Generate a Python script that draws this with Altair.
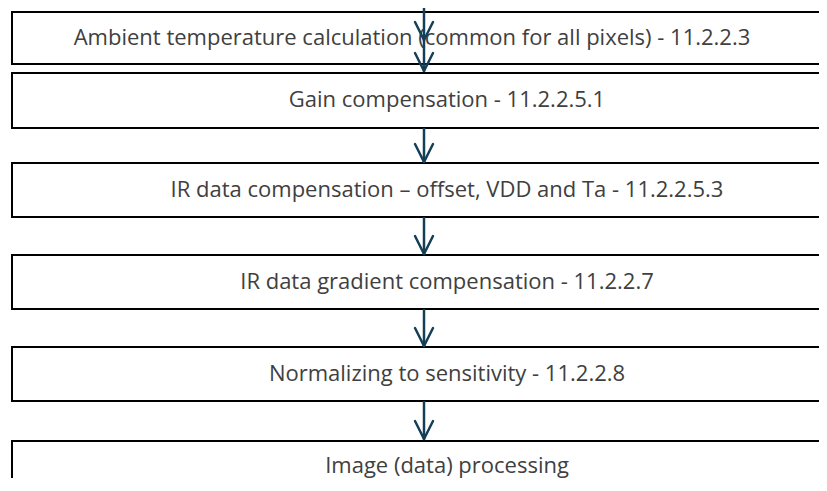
import altair as alt
import pandas as pd

# Flowchart steps (top to bottom)
labels = [
    "Ambient temperature calculation (common for all pixels) - 11.2.2.3",
    "Gain compensation - 11.2.2.5.1",
    "IR data compensation \u2013 offset, VDD and Ta - 11.2.2.5.3",
    "IR data gradient compensation - 11.2.2.7",
    "Normalizing to sensitivity - 11.2.2.8",
    "Image (data) processing",
]
box_top = [12, 73, 163, 255, 347, 441]
box_bottom = [64, 128, 217, 309, 401, 540]
box_left = [12, 12, 12, 12, 12, 12]
box_right = [1000, 1000, 1000, 1000, 1000, 1000]
text_x = [412, 447, 447, 447, 447, 447]
text_y = [38, 100, 190, 282, 374, 466]

# Arrows: shaft start/end and arrowhead tips
arrow_x = 424
shaft_start = [0, 128, 217, 309, 401]
shaft_end = [71, 162, 254, 346, 439]
head_tips = [40, 71, 162, 254, 346, 439]
head_half_w = 9
head_len = 18

ARROW = "#153F57"

boxes = pd.DataFrame({
    "label": labels,
    "x": box_left, "x2": box_right,
    "y": box_top, "y2": box_bottom,
    "tx": text_x, "ty": text_y,
})

shafts = pd.DataFrame({
    "x": [arrow_x] * len(shaft_start), "x2": [arrow_x] * len(shaft_start),
    "y": shaft_start, "y2": shaft_end,
})

heads_rows = []
for t in head_tips:
    heads_rows.append({"x": arrow_x - head_half_w, "y": t - head_len, "x2": arrow_x, "y2": t})
    heads_rows.append({"x": arrow_x + head_half_w, "y": t - head_len, "x2": arrow_x, "y2": t})
heads = pd.DataFrame(heads_rows)

xs = alt.Scale(domain=[8, 819], clamp=False)
ys = alt.Scale(domain=[8, 478], reverse=True, clamp=False)

rects = alt.Chart(boxes).mark_rect(
    fill="white", stroke="black", strokeWidth=2
).encode(
    x=alt.X("x:Q", scale=xs, axis=None), x2="x2:Q",
    y=alt.Y("y:Q", scale=ys, axis=None), y2="y2:Q",
)

texts = alt.Chart(boxes).mark_text(
    font="Open Sans", fontSize=22, color="#404040", baseline="middle", align="center"
).encode(
    x=alt.X("tx:Q", scale=xs, axis=None),
    y=alt.Y("ty:Q", scale=ys, axis=None),
    text="label:N",
)

shaft_marks = alt.Chart(shafts).mark_rule(color=ARROW, strokeWidth=2.5).encode(
    x=alt.X("x:Q", scale=xs, axis=None), x2="x2:Q",
    y=alt.Y("y:Q", scale=ys, axis=None), y2="y2:Q",
)

head_marks = alt.Chart(heads).mark_rule(color=ARROW, strokeWidth=2.5, strokeCap="round").encode(
    x=alt.X("x:Q", scale=xs, axis=None), x2="x2:Q",
    y=alt.Y("y:Q", scale=ys, axis=None), y2="y2:Q",
)

chart = alt.layer(rects, texts, shaft_marks, head_marks).properties(
    width=811, height=470, autosize=alt.AutoSizeParams(type="none"), padding=0
).configure_view(stroke=None)

chart.save("out.html", embed_options={"renderer": "svg", "actions": False})
